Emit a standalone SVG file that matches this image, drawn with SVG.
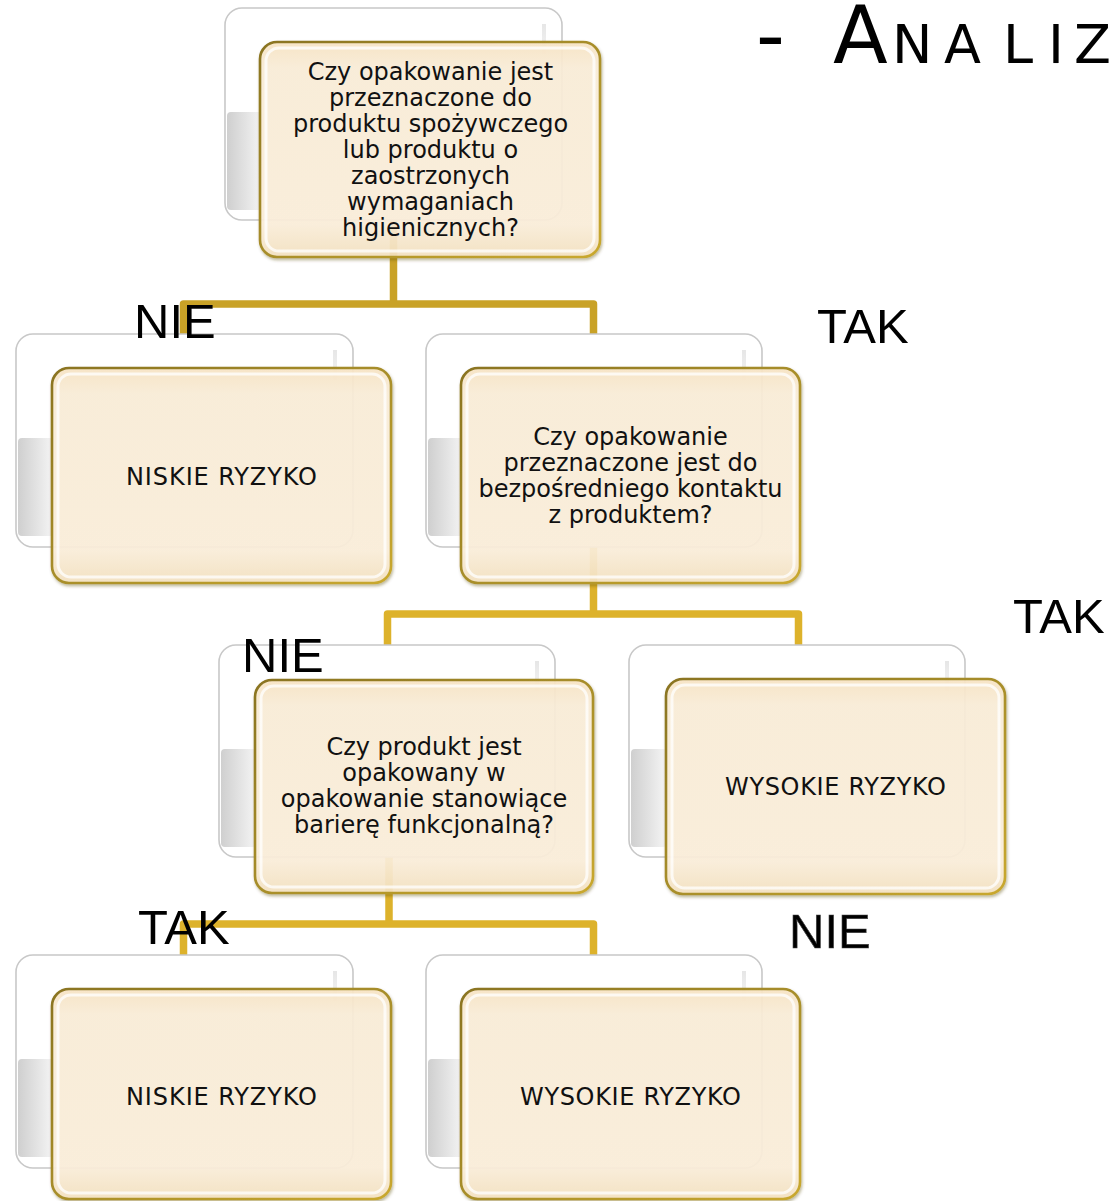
<svg xmlns="http://www.w3.org/2000/svg" width="1112" height="1201" viewBox="0 0 1112 1201">
<defs>
<linearGradient id="cream" x1="0" y1="0" x2="0" y2="1">
<stop offset="0" stop-color="#FAE6C6"/>
<stop offset="0.12" stop-color="#FCEFDA"/>
<stop offset="0.85" stop-color="#FDF0DC"/>
<stop offset="1" stop-color="#F6E3C2"/>
</linearGradient>
<linearGradient id="goldEdge" x1="0" y1="0" x2="1" y2="1">
<stop offset="0" stop-color="#8A7420"/>
<stop offset="0.5" stop-color="#A88E2A"/>
<stop offset="1" stop-color="#C9A82E"/>
</linearGradient>
<linearGradient id="glass" x1="0" y1="0" x2="1" y2="0">
<stop offset="0" stop-color="#CFCFCF"/>
<stop offset="0.5" stop-color="#E2E2E2"/>
<stop offset="1" stop-color="#F6F6F6"/>
</linearGradient>
<linearGradient id="rightGlint" x1="0" y1="0" x2="0" y2="1">
<stop offset="0" stop-color="#E6E6E6"/>
<stop offset="1" stop-color="#F4F4F4"/>
</linearGradient>
<filter id="sh" x="-5%" y="-5%" width="112%" height="115%">
<feDropShadow dx="1" dy="2" stdDeviation="1.5" flood-color="#5a4a10" flood-opacity="0.4"/>
</filter>
</defs>
<style>
.back{fill:#FFFFFF;stroke:#C8C8C8;stroke-width:1.6}
.band{fill:url(#glass)}
.glint{fill:url(#rightGlint)}
.front{fill:url(#cream);fill-opacity:0.9;stroke:url(#goldEdge);stroke-width:2.6;filter:url(#sh)}
.hi{fill:none;stroke:#FFFFFF;stroke-opacity:0.75;stroke-width:3}
.t{font-family:"DejaVu Sans","Noto Sans",sans-serif;font-size:24px;fill:#111111;text-anchor:middle}
.lbl{font-family:"Liberation Sans",Arial,sans-serif;font-size:49px;fill:#000000}
.title{font-family:"DejaVu Sans","Noto Sans",sans-serif;fill:#000000}
.c1{fill:none;stroke:#C9A227;stroke-width:7.5;stroke-linejoin:round;stroke-linecap:butt}
.c2{fill:none;stroke:#DDB22B;stroke-width:7.5;stroke-linejoin:round;stroke-linecap:butt}
</style>

<g id="title">
<text class="title" font-size="80" x="756" y="63">-</text>
<text class="title" y="63"><tspan x="833" font-size="80">A</tspan><tspan x="892" font-size="54">N</tspan><tspan x="944" font-size="54">A</tspan><tspan x="1003" font-size="54">L</tspan><tspan x="1048" font-size="54">I</tspan><tspan x="1074" font-size="54">Z</tspan></text>
</g>

<g id="connectors">
<path class="c1" d="M393.5,200 V304 H183.5 V340 M393.5,304 H593.5 V340"/>
<path class="c2" d="M593.5,520 V614 H387.5 V650 M593.5,614 H798.5 V650"/>
<path class="c2" d="M389,830 V924 H183.5 V960 M389,924 H593.5 V960"/>
</g>

<g id="node1" transform="translate(225,8)">
<rect class="back" x="0" y="0" width="337" height="212" rx="17"/>
<rect class="band" x="2" y="104" width="36" height="98" rx="4"/>
<rect class="glint" x="317" y="16" width="4" height="30"/>
<rect class="front" x="35" y="34" width="340" height="215" rx="17"/>
<rect class="hi" x="41" y="40" width="328" height="203" rx="13"/>
<text class="t"><tspan x="205.5" y="72">Czy opakowanie jest</tspan><tspan x="205.5" y="98">przeznaczone do</tspan><tspan x="205.5" y="124">produktu spożywczego</tspan><tspan x="205.5" y="150">lub produktu o</tspan><tspan x="205.5" y="176">zaostrzonych</tspan><tspan x="205.5" y="202">wymaganiach</tspan><tspan x="205.5" y="228">higienicznych?</tspan></text>
</g>

<g id="node2" transform="translate(16,334)">
<rect class="back" x="0" y="0" width="337" height="213" rx="17"/>
<rect class="band" x="2" y="104" width="36" height="98" rx="4"/>
<rect class="glint" x="317" y="16" width="4" height="30"/>
<rect class="front" x="36" y="34" width="339" height="215" rx="17"/>
<rect class="hi" x="42" y="40" width="327" height="203" rx="13"/>
<text class="t" x="205.5" y="151" textLength="191" lengthAdjust="spacing">NISKIE RYZYKO</text>
</g>

<g id="node3" transform="translate(426,334)">
<rect class="back" x="0" y="0" width="336" height="213" rx="17"/>
<rect class="band" x="2" y="104" width="36" height="98" rx="4"/>
<rect class="glint" x="316" y="16" width="4" height="30"/>
<rect class="front" x="35" y="34" width="339" height="215" rx="17"/>
<rect class="hi" x="41" y="40" width="327" height="203" rx="13"/>
<text class="t"><tspan x="204.5" y="111">Czy opakowanie</tspan><tspan x="204.5" y="137">przeznaczone jest do</tspan><tspan x="204.5" y="163">bezpośredniego kontaktu</tspan><tspan x="204.5" y="189">z produktem?</tspan></text>
</g>

<g id="node4" transform="translate(219,645)">
<rect class="back" x="0" y="0" width="336" height="212" rx="17"/>
<rect class="band" x="2" y="104" width="36" height="98" rx="4"/>
<rect class="glint" x="316" y="16" width="4" height="30"/>
<rect class="front" x="36" y="35" width="338" height="213" rx="17"/>
<rect class="hi" x="42" y="41" width="326" height="201" rx="13"/>
<text class="t"><tspan x="205" y="110">Czy produkt jest</tspan><tspan x="205" y="136">opakowany w</tspan><tspan x="205" y="162">opakowanie stanowiące</tspan><tspan x="205" y="188">barierę funkcjonalną?</tspan></text>
</g>

<g id="node5" transform="translate(629,645)">
<rect class="back" x="0" y="0" width="336" height="212" rx="17"/>
<rect class="band" x="2" y="104" width="36" height="98" rx="4"/>
<rect class="glint" x="316" y="16" width="4" height="30"/>
<rect class="front" x="37" y="34" width="339" height="215" rx="17"/>
<rect class="hi" x="43" y="40" width="327" height="203" rx="13"/>
<text class="t" x="206.5" y="150" textLength="221" lengthAdjust="spacing">WYSOKIE RYZYKO</text>
</g>

<g id="node6" transform="translate(16,955)">
<rect class="back" x="0" y="0" width="337" height="213" rx="17"/>
<rect class="band" x="2" y="104" width="36" height="98" rx="4"/>
<rect class="glint" x="317" y="16" width="4" height="30"/>
<rect class="front" x="36" y="34" width="339" height="210" rx="17"/>
<rect class="hi" x="42" y="40" width="327" height="198" rx="13"/>
<text class="t" x="205.5" y="150" textLength="191" lengthAdjust="spacing">NISKIE RYZYKO</text>
</g>

<g id="node7" transform="translate(426,955)">
<rect class="back" x="0" y="0" width="336" height="213" rx="17"/>
<rect class="band" x="2" y="104" width="36" height="98" rx="4"/>
<rect class="glint" x="316" y="16" width="4" height="30"/>
<rect class="front" x="35" y="34" width="339" height="210" rx="17"/>
<rect class="hi" x="41" y="40" width="327" height="198" rx="13"/>
<text class="t" x="204.5" y="150" textLength="221" lengthAdjust="spacing">WYSOKIE RYZYKO</text>
</g>

<g id="labels">
<text class="lbl" x="134" y="338">NIE</text>
<text class="lbl" x="817" y="343">TAK</text>
<text class="lbl" x="242" y="672">NIE</text>
<text class="lbl" x="1013" y="633">TAK</text>
<text class="lbl" x="138" y="944">TAK</text>
<text class="lbl" x="789" y="948" font-size="45" stroke="#444" stroke-width="0.6">NIE</text>
</g>
</svg>
